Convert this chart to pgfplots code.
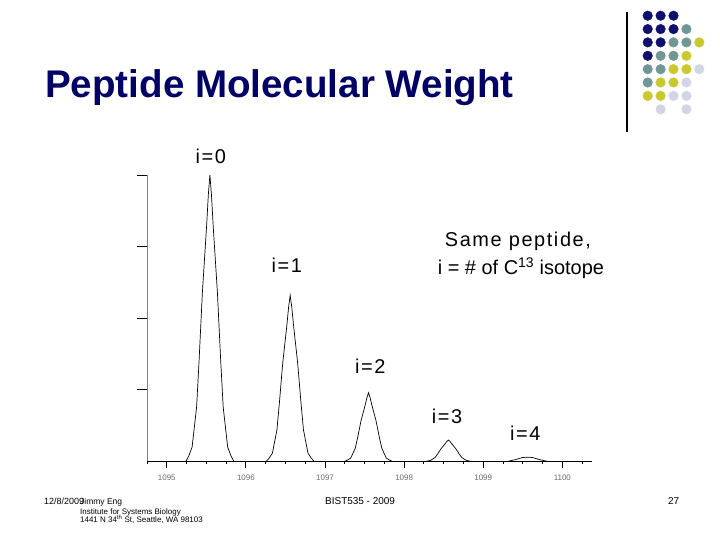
\documentclass[border=0pt]{standalone}
\usepackage{pgfplots}
\pgfplotsset{compat=1.18}
\usepackage{fontspec}
\setmainfont{Liberation Sans}
\newfontfamily\spaced[LetterSpace=8]{Liberation Sans}
\definecolor{titleblue}{RGB}{0,0,102}
\definecolor{dnavy}{RGB}{16,16,110}
\definecolor{dteal}{RGB}{112,150,150}
\definecolor{dyellow}{RGB}{201,201,46}
\definecolor{dlav}{RGB}{212,212,232}
\pgfplotstableread{
x y
1095.15 0
1095.241 0
1095.279 2
1095.320 5
1095.377 19
1095.408 35
1095.450 59
1095.503 82
1095.525 93
1095.545 100
1095.565 93
1095.587 82
1095.640 59
1095.682 35
1095.713 19
1095.770 5
1095.811 2
1095.849 0
1096.256 0
1096.294 1.2
1096.335 2.9
1096.392 11.0
1096.423 20.3
1096.465 34.2
1096.518 47.6
1096.540 53.9
1096.560 58
1096.580 53.9
1096.602 47.6
1096.655 34.2
1096.697 20.3
1096.728 11.0
1096.785 2.9
1096.826 1.2
1096.864 0
1097.246 0
1097.284 0.5
1097.325 1.2
1097.382 4.6
1097.413 8.4
1097.455 14.2
1097.508 19.7
1097.530 22.3
1097.550 24
1097.570 22.3
1097.592 19.7
1097.645 14.2
1097.687 8.4
1097.718 4.6
1097.775 1.2
1097.816 0.5
1097.854 0
1098.256 0
1098.294 0.15
1098.335 0.4
1098.392 1.4
1098.423 2.6
1098.465 4.4
1098.518 6.2
1098.540 7.0
1098.560 7.5
1098.580 7.0
1098.602 6.2
1098.655 4.4
1098.697 2.6
1098.728 1.4
1098.785 0.4
1098.826 0.15
1098.864 0
1099.30 0
1099.40 0.6
1099.50 1.4
1099.56 1.5
1099.62 1.4
1099.72 0.6
1099.82 0
1099.85 0
}\spectrum
\begin{document}
\begin{tikzpicture}[x=1bp,y=1bp]
\path[use as bounding box, fill=white] (0bp,0bp) rectangle (720bp,540bp);
% decorative dot grid
\begin{axis}[at={(0bp,0bp)}, anchor=south west, width=720bp, height=540bp, scale only axis,
  xmin=0, xmax=720, ymin=0, ymax=540, hide axis, clip=false]
\addplot[only marks, mark=*, mark size=4.8bp, color=dnavy] coordinates {
(647.7,524.3) (660.6,524.3) (673.5,524.3) (647.7,510.9) (660.6,510.9) (673.5,510.9)
(647.7,497.6) (660.6,497.6) (647.7,484.2)};
\addplot[only marks, mark=*, mark size=4.8bp, color=dteal] coordinates {
(686.4,510.9) (673.5,497.6) (686.4,497.6) (660.6,484.2) (673.5,484.2) (647.7,470.8)
(660.6,470.8) (647.7,457.5)};
\addplot[only marks, mark=*, mark size=4.8bp, color=dyellow] coordinates {
(699.3,497.6) (686.4,484.2) (673.5,470.8) (686.4,470.8) (660.6,457.5) (673.5,457.5)
(647.7,444.1) (660.6,444.1)};
\addplot[only marks, mark=*, mark size=4.8bp, color=dlav] coordinates {
(699.3,470.8) (686.4,457.5) (673.5,444.1) (686.4,444.1) (660.6,430.7) (686.4,430.7)};
\draw[black, line width=1.2bp] (axis cs:627,528) -- (axis cs:627,408);
\end{axis}
% y axis with ticks
\begin{axis}[at={(147bp,78.5bp)}, anchor=south west, width=445bp, height=286.5bp, scale only axis,
  xmin=1094.75, xmax=1100.375, ymin=0, ymax=100,
  axis y line*=left, hide x axis,
  y axis line style={gray, line width=0.8bp, -},
  ytick={25,50,75,100}, yticklabels={},
  tick align=outside, major tick length=10bp,
  tick style={black, line width=0.9bp}]
\end{axis}
% main spectrum axis
\begin{axis}[at={(147bp,78.5bp)}, anchor=south west, width=445bp, height=286.5bp, scale only axis,
  xmin=1094.75, xmax=1100.375, ymin=0, ymax=100,
  axis x line*=bottom, hide y axis,
  x axis line style={black, line width=0.8bp, -},
  xtick={1095,1096,1097,1098,1099,1100},
  xticklabels={1095,1096,1097,1098,1099,1100},
  minor xtick={1094.75,1095.25,1095.5,1095.75,1096.25,1096.5,1096.75,1097.25,1097.5,1097.75,1098.25,1098.5,1098.75,1099.25,1099.5,1099.75,1100.25},
  tick align=outside, major tick length=7bp, minor tick length=3bp,
  tick style={black, line width=0.8bp},
  xticklabel style={font=\fontsize{8}{8}\selectfont, text=gray!85!black, yshift=-3bp},
  /pgf/number format/assume math mode=true,
  clip=false]
\addplot[black, line width=0.7bp] table[x=x, y=y] {\spectrum};
\end{axis}
% title
\node[anchor=base west, inner sep=0, text=titleblue, font=\fontsize{38.7}{40}\selectfont\bfseries] at (45bp,442.3bp) {Peptide Molecular Weight};
% annotations
\node[anchor=base west, inner sep=0, font=\fontsize{20}{22}\selectfont\spaced] at (195.5bp,376.7bp) {i=0};
\node[anchor=base west, inner sep=0, font=\fontsize{20}{22}\selectfont\spaced] at (271.5bp,267bp) {i=1};
\node[anchor=base west, inner sep=0, font=\fontsize{20}{22}\selectfont\spaced] at (355bp,166bp) {i=2};
\node[anchor=base west, inner sep=0, font=\fontsize{20}{22}\selectfont\spaced] at (431.7bp,116.7bp) {i=3};
\node[anchor=base west, inner sep=0, font=\fontsize{20}{22}\selectfont\spaced] at (510bp,99.3bp) {i=4};
\node[anchor=base, inner sep=0, font=\fontsize{20}{22}\selectfont\spaced] at (517.9bp,293.3bp) {Same peptide,};
\node[anchor=base, inner sep=0, font=\fontsize{20}{22}\selectfont] at (520.9bp,265bp) {i = \# of C\textsuperscript{13} isotope};
% footer
\node[anchor=base west, inner sep=0, font=\fontsize{9}{9}\selectfont] at (44bp,36bp) {12/8/2009};
\node[anchor=base west, inner sep=0, font=\fontsize{8.5}{9}\selectfont] at (80bp,36bp) {Jimmy Eng};
\node[anchor=base west, inner sep=0, font=\fontsize{8}{8}\selectfont] at (80bp,25.7bp) {Institute for Systems Biology};
\node[anchor=base west, inner sep=0, font=\fontsize{8}{8}\selectfont] at (80bp,17.7bp) {1441 N 34\textsuperscript{th} St, Seattle, WA 98103};
\node[anchor=base west, inner sep=0, font=\fontsize{10}{10}\selectfont] at (325bp,36bp) {BIST535 - 2009};
\node[anchor=base west, inner sep=0, font=\fontsize{10}{10}\selectfont] at (668bp,36bp) {27};
\end{tikzpicture}
\end{document}
